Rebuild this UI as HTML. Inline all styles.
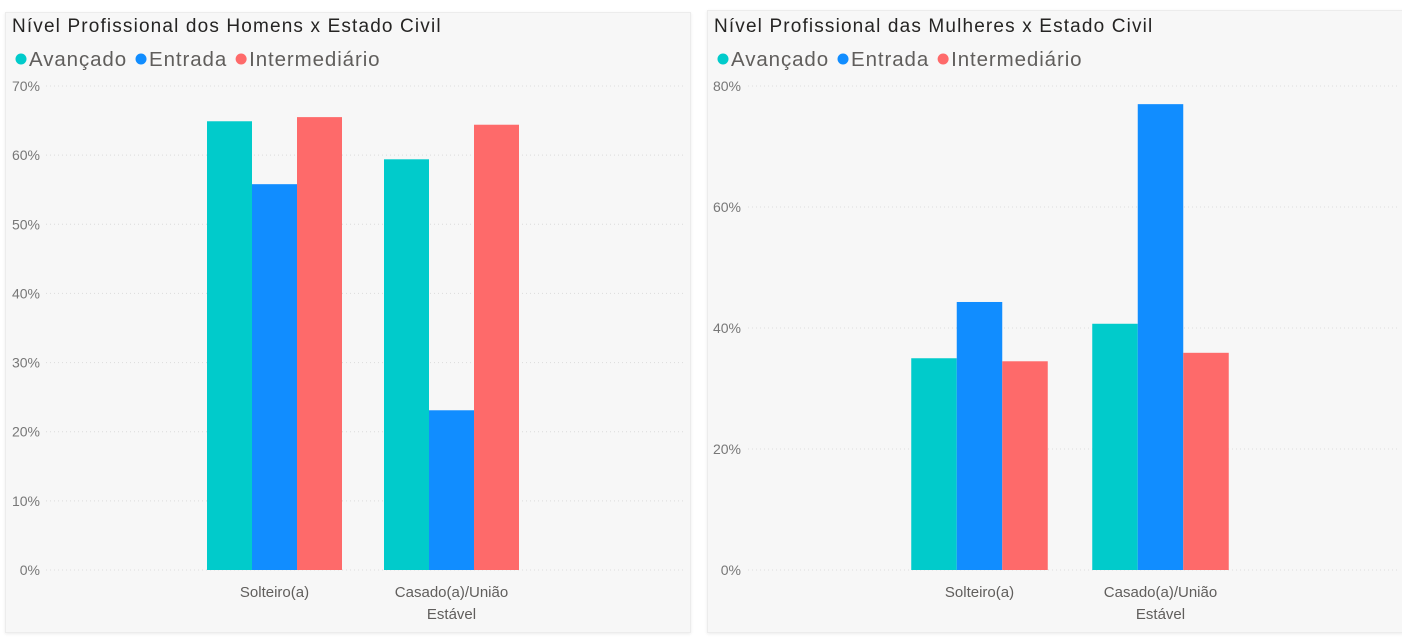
<!DOCTYPE html>
<html><head><meta charset="utf-8"><style>
body{margin:0;width:1402px;height:637px;background:#fff;font-family:"Liberation Sans",sans-serif;overflow:hidden;position:relative}
.panel{position:absolute;background:#f7f7f7;border:1px solid #ececec;box-shadow:0 1px 3px rgba(0,0,0,.08)}
svg{position:absolute;left:0;top:0}
</style></head><body>
<div class="panel" style="left:5px;top:12px;width:684px;height:619px"></div>
<div class="panel" style="left:707px;top:10px;width:695px;height:621px"></div>
<svg id="s" width="1402" height="637"></svg>
<script>
const categories=["Solteiro(a)","Casado(a)/União|Estável"];
const series=["Avançado","Entrada","Intermediário"];
const colors=["#01cbcb","#118dff","#fe6a6a"];
const menValues=[[64.9,59.4],[55.8,23.1],[65.5,64.4]];
const womenValues=[[35.0,40.7],[44.3,77.0],[34.5,35.9]];
const menTicks=[0,10,20,30,40,50,60,70];
const womenTicks=[0,20,40,60,80];
const NS="http://www.w3.org/2000/svg";
const svg=document.getElementById('s');
function el(t,a,txt){const e=document.createElementNS(NS,t);for(const k in a)e.setAttribute(k,a[k]);if(txt!==undefined)e.textContent=txt;svg.appendChild(e);return e;}
function chart(o){
  const y=v=>o.y0-(v/o.max)*(o.y0-o.yTop);
  const t=el('text',{x:o.px,y:32,'font-size':19,fill:'#252423','letter-spacing':1.15},o.title);
  
  let lx=o.px+4;
  series.forEach((s,i)=>{
    const c=el('circle',{cx:lx+5,cy:59,r:5.5,fill:colors[i]});
    
    const tx=el('text',{x:lx+13,y:66,'font-size':20.5,fill:'#605e5c','letter-spacing':0.9},s);
    
    lx+=13+tx.getComputedTextLength()+9;
  });
  o.ticks.forEach(v=>{
    const g=el('line',{x1:o.gx1,x2:o.gx2,y1:y(v),y2:y(v),stroke:'#dcdcdc','stroke-dasharray':'1,3'});
    
    const l=el('text',{x:o.lx,y:y(v)+5,'font-size':14,fill:'#777','text-anchor':'end'},v+'%');
    
  });
  categories.forEach((c,ci)=>{
    const cx=o.c0+ci*o.band;
    series.forEach((s,si)=>{
      const v=o.values[si][ci];
      const x=cx-1.5*o.bw+si*o.bw;
      const r=el('rect',{x:x,y:y(v),width:o.bw,height:o.y0-y(v),fill:colors[si]});
      
    });
    c.split('|').forEach((ln,li)=>{
      const t=el('text',{x:cx,y:o.y0+27+li*22,'font-size':15,fill:'#605e5c','text-anchor':'middle'},ln);
      
    });
  });
}
chart({key:'men',title:'Nível Profissional dos Homens x Estado Civil',px:12,values:menValues,ticks:menTicks,max:70,y0:570,yTop:86,gx1:46,gx2:684,lx:40,c0:274.5,band:177,bw:45});
chart({key:'women',title:'Nível Profissional das Mulheres x Estado Civil',px:714,values:womenValues,ticks:womenTicks,max:80,y0:570,yTop:86,gx1:748,gx2:1398,lx:741,c0:979.5,band:181,bw:45.5});
</script>
</body></html>
